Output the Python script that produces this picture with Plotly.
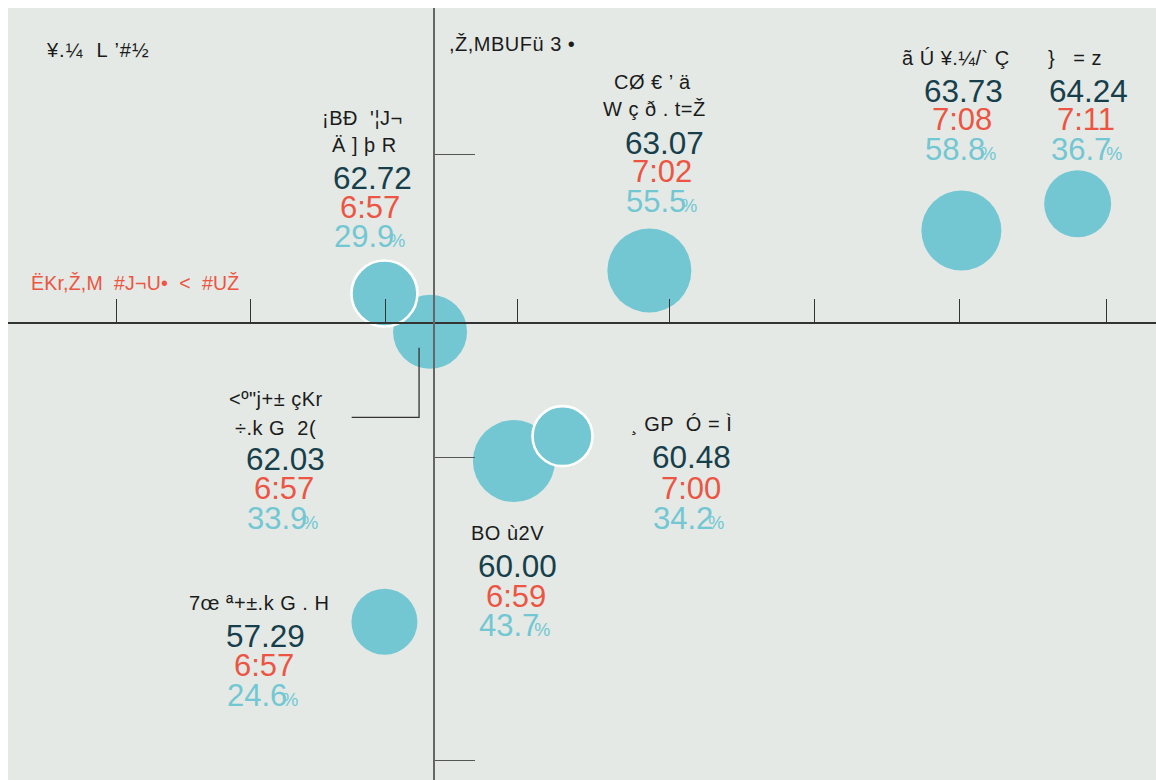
import plotly.graph_objects as go

# ---------------- data ----------------
labels = [
    ["¡BĐ  '¦J¬", "Ä ] þ R"],
    ["<º\"j+± çKr", "÷.k G  2("],
    ["CØ € ’ ä", "W ç ð . t=Ž"],
    ["ã Ú ¥.¼/` Ç"],
    ["}   = z"],
    ["¸ GP  Ó = Ì"],
    ["BO ù2V"],
    ["7œ ª+±.k G . H"],
]
scores = [62.72, 62.03, 63.07, 63.73, 64.24, 60.48, 60.00, 57.29]
wake_times = ["6:57", "6:57", "7:02", "7:08", "7:11", "7:00", "6:59", "6:57"]
shares = [29.9, 33.9, 55.5, 58.8, 36.7, 34.2, 43.7, 24.6]
# bubble positions (x: wake-up time in minutes after 0:00, y: score)
wake_minutes = [416.56, 417.49, 421.96, 428.32, 430.69, 420.19, 419.20, 416.56]
score_pos = [62.70, 62.07, 63.08, 63.74, 64.18, 60.35, 59.94, 57.29]
bubble_value = [33, 37, 42, 40, 33.5, 30, 41, 33]
highlighted = [1, 0, 0, 0, 0, 1, 0, 0]

x_ticks = [411.09, 413.84, 416.59, 419.28, 422.38, 425.32, 428.29, 431.27]
y_ticks = [55, 60, 65]
x_cross = 417.57
y_cross = 62.21
x_range = [408.887, 432.287]
y_range = [54.682, 67.407]

title_text = "¥.¼  L ’#½"
y_title = ",Ž,MBUFü 3 •"
x_title = "ËKr,Ž,M  #J¬U•  <  #UŽ"

# ---------------- styling / layout ----------------
BG = "#e4e9e5"
BUBBLE = "#72c7d3"
DARK = "#173f4b"
RED = "#ec5543"
INK = "#1b1b1b"
FONT = "Liberation Sans, Arial, sans-serif"

FW, FH = 1156, 780          # figure size
ML, MT = 8, 8               # white strip left / top
W, H = FW - ML, FH - MT     # plot area


def fx(sx):
    return (sx - ML) / W


def fy(sy):
    return 1 - (sy - MT) / H


def esc(t):
    return t.replace("&", "&amp;").replace("<", "&lt;").replace(">", "&gt;")


def spaced(t, ls):
    return f"<span style='letter-spacing:{ls}px'>{esc(t)}</span>"


# screen-pixel layout of each text group
group_pos = [
    dict(label=[(362, 118), (364, 145.5)], score=(372, 177.5), time=(370, 207.5), pct=(369.4, 236.5)),
    dict(label=[(275.8, 399), (275, 428.3)], score=(285.5, 459.3), time=(284, 488.3), pct=(282.6, 518.3)),
    dict(label=[(652, 81.7), (654.4, 109.3)], score=(664, 143.3), time=(662.3, 171.7), pct=(661, 201.7)),
    dict(label=[(956, 58.3)], score=(963, 90.7), time=(962, 120), pct=(960.8, 149)),
    dict(label=[(1075, 58.3)], score=(1088.7, 90.7), time=(1086, 120), pct=(1086.6, 149)),
    dict(label=[(681, 424)], score=(691.5, 457.3), time=(691.2, 488.3), pct=(688.6, 518.3)),
    dict(label=[(507.5, 533.3)], score=(517.8, 566), time=(516, 596.7), pct=(514.7, 625)),
    dict(label=[(258.7, 603.3)], score=(265.7, 636), time=(264, 665), pct=(262.8, 695)),
]

fig = go.Figure()

order = sorted(range(len(scores)), key=lambda i: highlighted[i])
fig.add_trace(go.Scatter(
    x=[wake_minutes[i] for i in order],
    y=[score_pos[i] for i in order],
    mode="markers",
    marker=dict(
        size=[2 * bubble_value[i] for i in order],
        color=BUBBLE,
        opacity=1,
        line=dict(color="white", width=[2.6 if highlighted[i] else 0 for i in order]),
    ),
    hoverinfo="skip",
    showlegend=False,
))

ann = []


def add_text(text, sx, sy, size, color, xanchor="center"):
    ann.append(dict(
        text=text, x=fx(sx), y=fy(sy), xref="paper", yref="paper",
        xanchor=xanchor, yanchor="middle", showarrow=False,
        font=dict(family=FONT, size=size, color=color),
    ))


for i, g in enumerate(group_pos):
    for line, (sx, sy) in zip(labels[i], g["label"]):
        add_text(spaced(line, 0.5), sx, sy, 20, INK)
    add_text(f"{scores[i]:.2f}", *g["score"], 31.5, DARK)
    add_text(wake_times[i], *g["time"], 31, RED)
    s = f"{shares[i]:.1f}"
    pct = (s[:-1] + "<span style='letter-spacing:-5px'>" + s[-1] + "</span>"
           + "<span style='font-size:18px'>%</span>")
    add_text(pct, *g["pct"], 31, BUBBLE)

add_text(spaced(title_text, 1), 44, 50, 20, INK, xanchor="left")
add_text(spaced(y_title, 0.5), 447, 44.5, 20, INK, xanchor="left")
add_text(spaced(x_title, 0.2), 29, 283.5, 19.5, RED, xanchor="left")

# leader line from the second bubble to its label
shapes = [dict(
    type="path", xref="x", yref="y",
    xsizemode="pixel", ysizemode="pixel",
    xanchor=wake_minutes[1], yanchor=score_pos[1],
    path="M -11,-16 L -11,-85.6 L -78.4,-85.6",
    line=dict(color="#333333", width=1.3),
)]

xpos = (y_cross - y_range[0]) / (y_range[1] - y_range[0])
ypos = (x_cross - x_range[0]) / (x_range[1] - x_range[0])

fig.update_layout(
    width=FW, height=FH,
    margin=dict(l=ML, r=0, t=MT, b=0, pad=0),
    paper_bgcolor="white", plot_bgcolor=BG,
    annotations=ann, shapes=shapes,
    xaxis=dict(
        range=x_range, anchor="free", position=xpos, side="top",
        showgrid=False, zeroline=False, showticklabels=False,
        showline=True, linecolor="#333333", linewidth=1.6,
        ticks="outside", tickvals=x_ticks, ticklen=23, tickwidth=1.3, tickcolor="#333333",
        layer="above traces", fixedrange=True,
    ),
    yaxis=dict(
        range=y_range, anchor="free", position=ypos, side="right",
        showgrid=False, zeroline=False, showticklabels=False,
        showline=True, linecolor="#666666", linewidth=1.6,
        ticks="outside", tickvals=y_ticks, ticklen=40, tickwidth=1.3, tickcolor="#555555",
        layer="above traces", fixedrange=True,
    ),
)

fig.write_html("out.html", config={"displayModeBar": False},
               post_script="document.body.style.margin='0';document.body.style.overflow='hidden';")
